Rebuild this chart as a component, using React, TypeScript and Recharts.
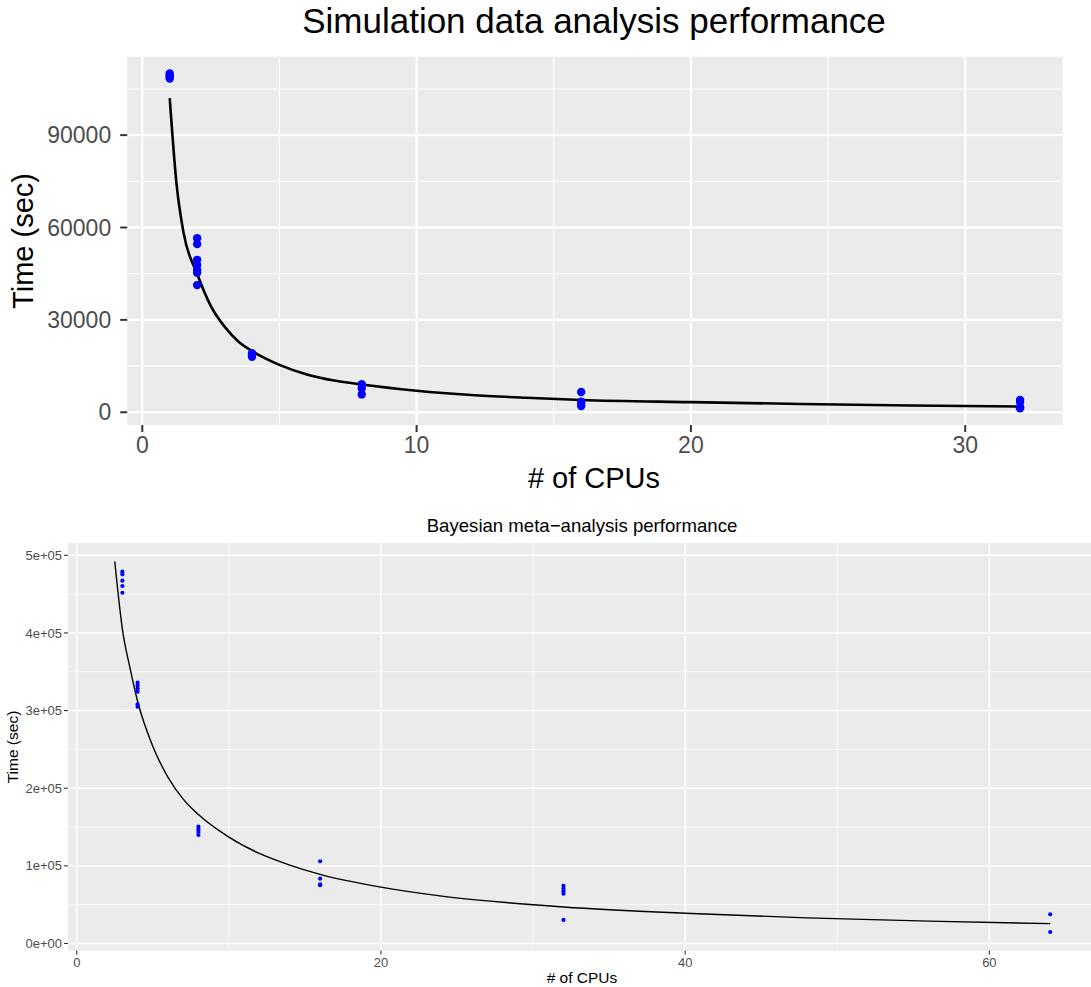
import React from 'react';
import {
  ComposedChart, Scatter, Line, XAxis, YAxis, CartesianGrid,
} from 'recharts';

// ── Colours (ggplot2 theme_grey) ────────────────────────────────────────────
const PANEL_BG   = '#EBEBEB';
const GRID       = '#FFFFFF';
const TICK_TEXT  = '#4D4D4D';
const TICK_LINE  = '#333333';
const POINT_BLUE = '#0000FF';
const FONT = '"Liberation Sans", Arial, Helvetica, sans-serif';

// ── Top chart: simulation data analysis ─────────────────────────────────────
const SIM_CPUS = [1, 2, 4, 8, 16, 32];
const SIM_TIMES = [
  [110000, 109400, 108900, 108400],
  [56500, 54600, 49500, 47800, 46200, 45300, 41300],
  [19200, 18600, 18000],
  [9100, 7800, 5800],
  [6600, 3400, 2700, 2000],
  [4000, 3300, 1600, 1300],
];
const SIM_FIT_X = [1, 1.25, 1.5, 2, 2.5, 3, 3.5, 4, 5, 6, 7, 8, 10, 12, 14, 16, 20, 24, 28, 32];
const SIM_FIT_Y = [102000, 74000, 58500, 45000, 34500, 27800, 23000, 19900, 15400, 12300, 10300,
  9000, 7000, 5600, 4700, 4000, 3300, 2700, 2200, 1850];
const SIM_X_TICKS = [0, 10, 20, 30];
const SIM_X_MINOR = [5, 15, 25];
const SIM_Y_TICKS = [0, 30000, 60000, 90000];
const SIM_Y_MINOR = [15000, 45000, 75000, 105000];

// ── Bottom chart: Bayesian meta-analysis ────────────────────────────────────
const BAYES_CPUS = [3, 4, 8, 16, 32, 64];
const BAYES_TIMES = [
  [478900, 475500, 467300, 460500, 451800],
  [335900, 332600, 328700, 324300, 308100, 305000],
  [150400, 147100, 143600, 139700],
  [105900, 83500, 76200, 75000],
  [74100, 70600, 67200, 64100, 30300],
  [37600, 14800],
];
const BAYES_FIT_X = [2.5, 3, 3.5, 4, 5, 6, 7, 8, 10, 12, 14, 16, 20, 24, 28, 32, 40, 48, 56, 64];
const BAYES_FIT_Y = [492000, 405000, 355000, 312000, 254000, 214000, 186000, 166000, 137000,
  116000, 101000, 89000, 72500, 61000, 53000, 47000, 38900, 33000, 28800, 25500];
const BAYES_X_TICKS = [0, 20, 40, 60];
const BAYES_X_MINOR = [10, 30, 50];
const BAYES_Y_TICKS = [0, 100000, 200000, 300000, 400000, 500000];
const BAYES_Y_LABELS = ['0e+00', '1e+05', '2e+05', '3e+05', '4e+05', '5e+05'];
const BAYES_Y_MINOR = [50000, 150000, 250000, 350000, 450000];

const toPoints = (cpus: number[], times: number[][]) =>
  cpus.flatMap((c, i) => times[i].map(t => ({ x: c, y: t })));
const toLine = (xs: number[], ys: number[]) => xs.map((x, i) => ({ x, y: ys[i] }));

const simPoints = toPoints(SIM_CPUS, SIM_TIMES);
const simFit = toLine(SIM_FIT_X, SIM_FIT_Y);
const bayesPoints = toPoints(BAYES_CPUS, BAYES_TIMES);
const bayesFit = toLine(BAYES_FIT_X, BAYES_FIT_Y);

const dot = (r: number) => (props: any) =>
  <circle cx={props.cx} cy={props.cy} r={r} fill={POINT_BLUE} />;

export default function App() {
  return (
    <div style={{
      position: 'absolute', left: 0, top: 0, width: 1091, height: 987,
      overflow: 'hidden', background: '#fff', fontFamily: FONT,
    }}>
      {/* Panel superior */}
      <div style={{ position: 'absolute', left: 0, top: 0 }}>
        <ComposedChart width={1091} height={490}
          margin={{ top: 56.8, right: 28.4, bottom: 35, left: 67.2 }}>
          <CartesianGrid fill={PANEL_BG} stroke={GRID} strokeWidth={1.1}
            horizontalValues={SIM_Y_MINOR} verticalValues={SIM_X_MINOR} />
          <CartesianGrid stroke={GRID} strokeWidth={2.3}
            horizontalValues={SIM_Y_TICKS} verticalValues={SIM_X_TICKS} />
          <XAxis type="number" dataKey="x" domain={[-0.55, 33.55]} ticks={SIM_X_TICKS}
            allowDataOverflow interval={0} height={30} axisLine={false}
            tickLine={{ stroke: TICK_LINE, strokeWidth: 2 }} tickSize={7} tickMargin={5}
            tick={{ fill: TICK_TEXT, fontSize: 23 }} />
          <YAxis type="number" dataKey="y" domain={[-4135, 115435]} ticks={SIM_Y_TICKS}
            allowDataOverflow interval={0} width={60} axisLine={false}
            tickLine={{ stroke: TICK_LINE, strokeWidth: 2 }} tickSize={7} tickMargin={9}
            tick={{ fill: TICK_TEXT, fontSize: 23 }} />
          <Scatter data={simPoints} dataKey="y" fill={POINT_BLUE} shape={dot(4.2)}
            isAnimationActive={false} />
          <Line data={simFit} dataKey="y" type="monotone" stroke="#000" strokeWidth={2.6}
            dot={false} activeDot={false} isAnimationActive={false} />
        </ComposedChart>
      </div>

      {/* Panel inferior */}
      <div style={{ position: 'absolute', left: 0, top: 500 }}>
        <ComposedChart width={1110} height={487}
          margin={{ top: 43, right: 13, bottom: 16.5, left: 18 }}>
          <CartesianGrid fill={PANEL_BG} stroke={GRID} strokeWidth={0.7}
            horizontalValues={BAYES_Y_MINOR} verticalValues={BAYES_X_MINOR} />
          <CartesianGrid stroke={GRID} strokeWidth={1.4}
            horizontalValues={BAYES_Y_TICKS} verticalValues={BAYES_X_TICKS} />
          <XAxis type="number" dataKey="x" domain={[-0.575, 67.075]} ticks={BAYES_X_TICKS}
            allowDataOverflow interval={0} height={20} axisLine={false}
            tickLine={{ stroke: TICK_LINE, strokeWidth: 1.1 }} tickSize={4} tickMargin={3}
            tick={{ fill: TICK_TEXT, fontSize: 13 }} />
          <YAxis type="number" dataKey="y" domain={[-9060, 515860]} ticks={BAYES_Y_TICKS}
            allowDataOverflow interval={0} width={50} axisLine={false}
            tickFormatter={(v: number) => BAYES_Y_LABELS[BAYES_Y_TICKS.indexOf(v)] ?? String(v)}
            tickLine={{ stroke: TICK_LINE, strokeWidth: 1.1 }} tickSize={4} tickMargin={2}
            tick={{ fill: TICK_TEXT, fontSize: 13 }} />
          <Scatter data={bayesPoints} dataKey="y" fill={POINT_BLUE} shape={dot(2.1)}
            isAnimationActive={false} />
          <Line data={bayesFit} dataKey="y" type="monotone" stroke="#000" strokeWidth={1.4}
            dot={false} activeDot={false} isAnimationActive={false} />
        </ComposedChart>
      </div>

      {/* Títulos */}
      <svg width={1091} height={987} style={{ position: 'absolute', left: 0, top: 0, pointerEvents: 'none' }}
        fontFamily={FONT}>
        <text x={594} y={33} textAnchor="middle" fontSize={35} fill="#000">
          Simulation data analysis performance
        </text>
        <text x={594} y={488} textAnchor="middle" fontSize={29} fill="#000"># of CPUs</text>
        <text transform="translate(33,241) rotate(-90)" textAnchor="middle" fontSize={29} fill="#000">
          Time (sec)
        </text>
        <text x={582} y={531.6} textAnchor="middle" fontSize={18.6} fill="#000">
          Bayesian meta−analysis performance
        </text>
        <text x={582} y={983} textAnchor="middle" fontSize={15.5} fill="#000"># of CPUs</text>
        <text transform="translate(17.5,747) rotate(-90)" textAnchor="middle" fontSize={15.5} fill="#000">
          Time (sec)
        </text>
      </svg>
    </div>
  );
}
